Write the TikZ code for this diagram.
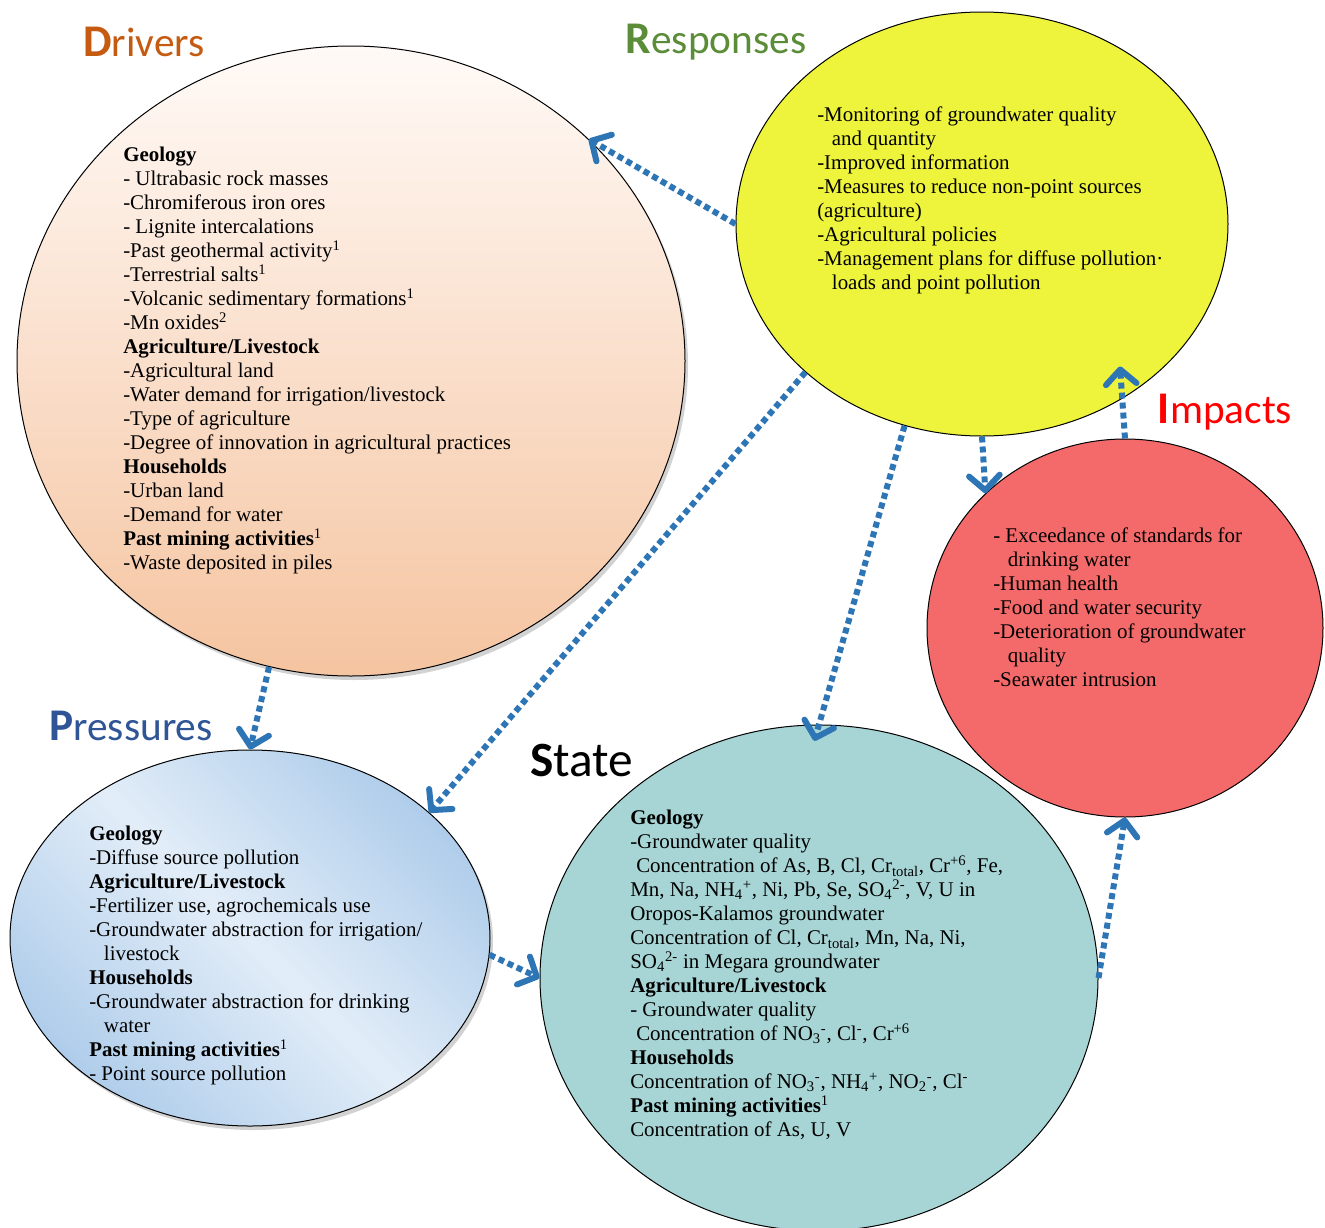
\documentclass[tikz,border=0pt]{standalone}
\usepackage{fontspec}
\setmainfont{Liberation Serif}
\newfontfamily\labfont{Carlito}
\usetikzlibrary{shapes.geometric,arrows.meta,shadows}
\definecolor{drvtop}{HTML}{FFFAF7}
\definecolor{drvbot}{HTML}{F5C4A0}
\definecolor{respfill}{HTML}{EEF43C}
\definecolor{impfill}{HTML}{F46A6A}
\definecolor{prsin}{HTML}{E2EDF8}
\definecolor{prsout}{HTML}{A9C9E9}
\definecolor{statefill}{HTML}{A7D4D4}
\definecolor{arrowblue}{HTML}{2E75B6}
\definecolor{drvlab}{HTML}{C55A11}
\definecolor{resplab}{HTML}{5B8C38}
\definecolor{implab}{HTML}{FF0000}
\definecolor{prslab}{HTML}{2F5597}
\pgfdeclarehorizontalshading{prsshade}{100bp}{color(0bp)=(prsout); color(22bp)=(prsout); color(50bp)=(prsin); color(78bp)=(prsout); color(100bp)=(prsout)}
\tikzset{
  blob/.style={ellipse, draw=black, line width=0.75pt, inner sep=0pt},
  txt/.style={anchor=north west, align=left, inner sep=0pt, font=\fontsize{15.7pt}{18pt}\selectfont},
  lab/.style={inner sep=0pt, font=\labfont\fontsize{31pt}{31pt}\selectfont},
  flow/.style={draw=arrowblue, line width=4.5pt, dash pattern=on 4.5pt off 3pt,
    -{Straight Barb[length=11pt,width=23pt,line cap=round,line join=round]}},
}
\newcommand{\ind}{\hspace*{11pt}}
\newcommand{\sps}{\hspace*{4.5pt}}
\begin{document}
\begin{tikzpicture}[x=0.75pt,y=-0.75pt]
\useasboundingbox[fill=white] (0,0) rectangle (1325,1228);

% circles
\node[blob, minimum width=501pt, minimum height=472.5pt, top color=drvtop, bottom color=drvbot,
  drop shadow={shadow xshift=2.25pt, shadow yshift=-3pt, opacity=0.35}] (drv) at (351,361) {};
\node[blob, minimum width=369pt, minimum height=318pt, fill=respfill] (resp) at (982,224) {};
\node[blob, minimum width=297pt, minimum height=283.5pt, fill=impfill] (imp) at (1125,628) {};
\node[blob, minimum width=360pt, minimum height=282pt, shading=prsshade, shading angle=45,
  drop shadow={shadow xshift=2.25pt, shadow yshift=-3pt, opacity=0.35}] (prs) at (250,938) {};
\node[blob, minimum width=418.5pt, minimum height=379.5pt, fill=statefill] (state) at (819,978) {};

% titles
\node[lab, text=drvlab] (ldrv) at (144,42) {{\bfseries\fontsize{34pt}{34pt}\selectfont D}rivers};
\node[lab, text=resplab] (lresp) at (716,42) {{\bfseries\fontsize{34pt}{34pt}\selectfont R}esponses};
\node[lab, text=implab] (limp) at (1225,412) {{\bfseries\fontsize{34pt}{34pt}\selectfont I}mpacts};
\node[lab, text=prslab] (lprs) at (131,726) {{\bfseries\fontsize{34pt}{34pt}\selectfont P}ressures};
\node[lab, text=black, font=\labfont\fontsize{37pt}{37pt}\selectfont] (lstate) at (582,760) {{\bfseries S}tate};

% texts
\node[txt] (tdrv) at (123,147) {\textbf{Geology}\\
- Ultrabasic rock masses\\
-Chromiferous iron ores\\
- Lignite intercalations\\
-Past geothermal activity\textsuperscript{1}\\
-Terrestrial salts\textsuperscript{1}\\
-Volcanic sedimentary formations\textsuperscript{1}\\
-Mn oxides\textsuperscript{2}\\
\textbf{Agriculture/Livestock}\\
-Agricultural land\\
-Water demand for irrigation/livestock\\
-Type of agriculture\\
-Degree of innovation in agricultural practices\\
\textbf{Households}\\
-Urban land\\
-Demand for water\\
\textbf{Past mining activities}\textsuperscript{1}\\
-Waste deposited in piles};

\node[txt] (tresp) at (817,106) {-Monitoring of groundwater quality\\
\ind and quantity\\
-Improved information\\
-Measures to reduce non-point sources\\
(agriculture)\\
-Agricultural policies\\
-Management plans for diffuse pollution·\\
\ind loads and point pollution};

\node[txt] (timp) at (993,527) {- Exceedance of standards for\\
\ind drinking water\\
-Human health\\
-Food and water security\\
-Deterioration of groundwater\\
\ind quality\\
-Seawater intrusion};

\node[txt] (tprs) at (89,826) {\textbf{Geology}\\
-Diffuse source pollution\\
\textbf{Agriculture/Livestock}\\
-Fertilizer use, agrochemicals use\\
-Groundwater abstraction for irrigation/\\
\ind livestock\\
\textbf{Households}\\
-Groundwater abstraction for drinking\\
\ind water\\
\textbf{Past mining activities}\textsuperscript{1}\\
- Point source pollution};

\node[txt] (tstate) at (630,810) {\textbf{Geology}\\
-Groundwater quality\\
\sps Concentration of As, B, Cl, Cr\textsubscript{total}, Cr\textsuperscript{+6}, Fe,\\
Mn, Na, NH\textsubscript{4}\textsuperscript{+}, Ni, Pb, Se, SO\textsubscript{4}\textsuperscript{2-}, V, U in\\
Oropos-Kalamos groundwater\\
Concentration of Cl, Cr\textsubscript{total}, Mn, Na, Ni,\\
SO\textsubscript{4}\textsuperscript{2-} in Megara groundwater\\
\textbf{Agriculture/Livestock}\\
- Groundwater quality\\
\sps Concentration of NO\textsubscript{3}\textsuperscript{-}, Cl\textsuperscript{-}, Cr\textsuperscript{+6}\\
\textbf{Households}\\
Concentration of NO\textsubscript{3}\textsuperscript{-}, NH\textsubscript{4}\textsuperscript{+}, NO\textsubscript{2}\textsuperscript{-}, Cl\textsuperscript{-}\\
\textbf{Past mining activities}\textsuperscript{1}\\
Concentration of As, U, V};

% connectors
\draw[flow] (resp.180) -- (drv.43);
\draw[flow] (resp.220.6) -- (prs.35.6);
\draw[flow, shorten >=-12.75pt] (resp.249) -- (state.north);
\draw[flow] (resp.south) -- (imp.136);
\draw[flow] (imp.north) -- ++(-5,-72);
\draw[flow] (drv.255) -- (prs.north);
\draw[flow] (prs.-4.7) -- (state.west);
\draw[flow] (state.east) -- (imp.south);
\end{tikzpicture}
\end{document}
